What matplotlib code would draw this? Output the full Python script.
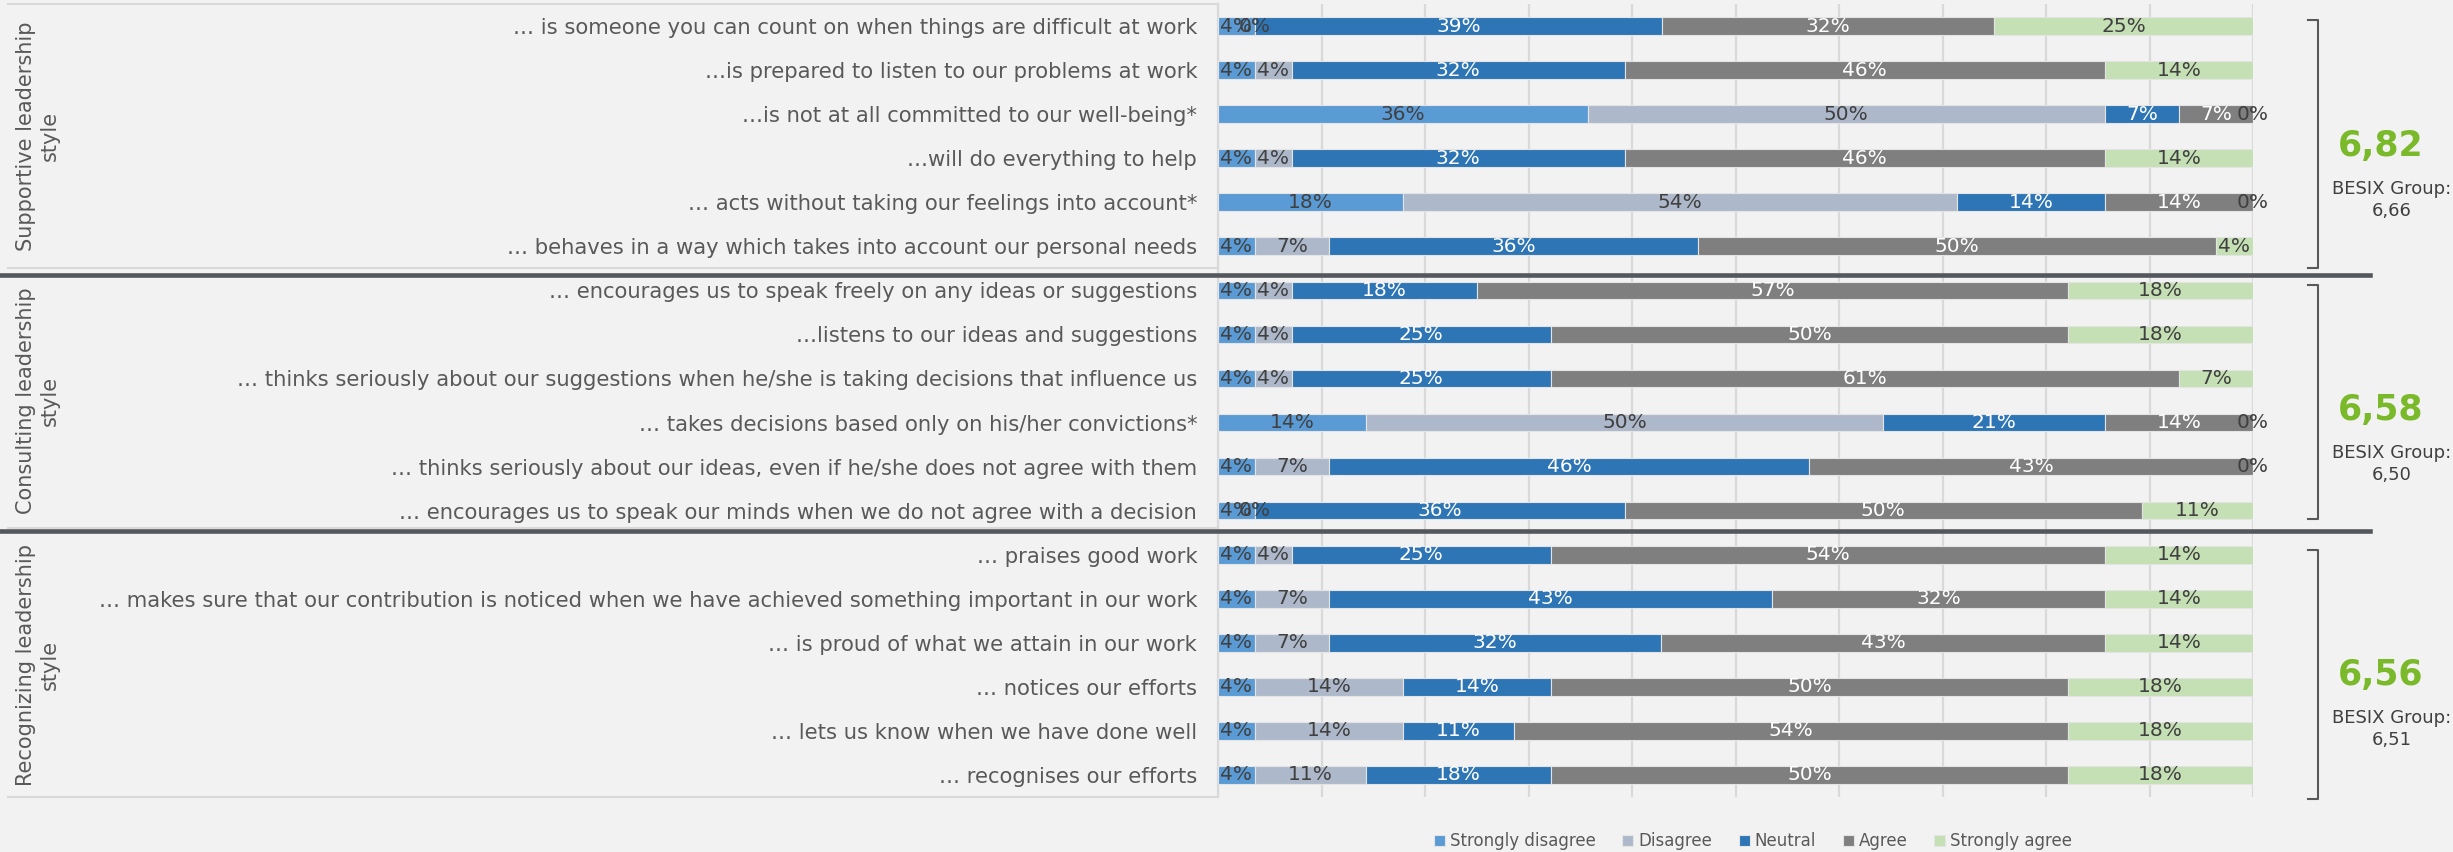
import matplotlib.pyplot as plt
from matplotlib.lines import Line2D
import matplotlib.transforms as mtransforms

statements = [
    "… is someone you can count on when things are difficult at work",
    "…is prepared to listen to our problems at work",
    "…is not at all committed to our well-being*",
    "…will do everything to help",
    "… acts without taking our feelings into account*",
    "… behaves in a way which takes into account our personal needs",
    "… encourages us to speak freely on any ideas or suggestions",
    "…listens to our ideas and suggestions",
    "… thinks seriously about our suggestions when he/she is taking decisions that influence us",
    "… takes decisions based only on his/her convictions*",
    "… thinks seriously about our ideas, even if he/she does not agree with them",
    "… encourages us to speak our minds when we do not agree with a decision",
    "… praises good work",
    "… makes sure that our contribution is noticed when we have achieved something important in our work",
    "… is proud of what we attain in our work",
    "… notices our efforts",
    "… lets us know when we have done well",
    "… recognises our efforts",
]

# share of answers per statement (%)
strongly_disagree = [3.57, 3.57, 35.71, 3.57, 17.86, 3.57, 3.57, 3.57, 3.57,
                     14.29, 3.57, 3.57, 3.57, 3.57, 3.57, 3.57, 3.57, 3.57]
disagree = [0, 3.57, 50.0, 3.57, 53.57, 7.14, 3.57, 3.57, 3.57,
            50.0, 7.14, 0, 3.57, 7.14, 7.14, 14.29, 14.29, 10.71]
neutral = [39.29, 32.14, 7.14, 32.14, 14.29, 35.71, 17.86, 25.0, 25.0,
           21.43, 46.43, 35.71, 25.0, 42.86, 32.14, 14.29, 10.71, 17.86]
agree = [32.14, 46.43, 7.14, 46.43, 14.29, 50.0, 57.14, 50.0, 60.71,
         14.29, 42.86, 50.0, 53.57, 32.14, 42.86, 50.0, 53.57, 50.0]
strongly_agree = [25.0, 14.29, 0, 14.29, 0, 3.57, 17.86, 17.86, 7.14,
                  0, 0, 10.71, 14.29, 14.29, 14.29, 17.86, 17.86, 17.86]

answer_names = ["Strongly disagree", "Disagree", "Neutral", "Agree", "Strongly agree"]
answer_colors = ["#5b9bd5", "#adb9ca", "#2e75b6", "#7f7f7f", "#c5e0b4"]
label_colors = ["#404040", "#404040", "white", "white", "#404040"]

group_names = ["Supportive leadership\nstyle", "Consulting leadership\nstyle",
               "Recognizing leadership\nstyle"]
group_scores = ["6,82", "6,58", "6,56"]
besix_scores = ["6,66", "6,50", "6,51"]
group_size = 6

BG = "#f2f2f2"
W, H = 2453, 852

fig = plt.figure(figsize=(W / 100, H / 100), dpi=100, facecolor=BG)
ax = fig.add_axes([1218 / W, 55 / H, (2253 - 1218) / W, (797 - 4) / H])
ax.set_facecolor(BG)


def fx(px):
    return px / W


def fy(py):
    return 1 - py / H


series = [strongly_disagree, disagree, neutral, agree, strongly_agree]
rows = list(range(len(statements)))
left = [0.0] * len(statements)
handles = []
for vals, name, col, tcol in zip(series, answer_names, answer_colors, label_colors):
    bars = ax.barh(rows, vals, left=left, height=0.4, color=col,
                   edgecolor="#e4e4e4", linewidth=0.8, label=name, zorder=3)
    # value labels in the middle of each segment (also for empty ones)
    for bar, v in zip(bars, vals):
        ax.text(bar.get_x() + bar.get_width() / 2,
                bar.get_y() + bar.get_height() / 2, f"{v:.0f}%",
                ha="center", va="center", color=tcol, fontsize=14.5,
                zorder=4, clip_on=False)
    handles.append(bars)
    left = [l + v for l, v in zip(left, vals)]

ax.set_xlim(0, 100)
ax.set_ylim(len(statements) - 0.5, -0.5)
ax.set_xticks(range(0, 101, 10))
ax.set_xticklabels([])
ax.tick_params(axis="x", length=0)
ax.grid(axis="x", color="#d9d9d9", linewidth=1.6, zorder=0)
ax.set_axisbelow(True)
ax.set_yticks(rows)
ax.set_yticklabels(statements, fontsize=15.2, color="#595959")
ax.tick_params(axis="y", length=0, pad=15)
for side in ["top", "right", "bottom"]:
    ax.spines[side].set_visible(False)
ax.spines["left"].set_color("#d9d9d9")
ax.spines["left"].set_linewidth(1.6)

# light frame lines of the category block
for py in [4, 268, 528, 797]:
    fig.add_artist(Line2D([fx(8), fx(1218)], [fy(py), fy(py)],
                          color="#d9d9d9", linewidth=1.5))

# dark separators between the groups
for py in [274.7, 530.7]:
    fig.add_artist(Line2D([0, fx(2370)], [fy(py), fy(py)],
                          color="#54585c", linewidth=3.3, zorder=10))

# group names, scores and brackets
trans_lbl = mtransforms.blended_transform_factory(fig.transFigure, ax.transData)
bracket_spans = [(20, 268), (285, 519), (550, 799)]
for g, (gname, score, besix) in enumerate(zip(group_names, group_scores, besix_scores)):
    center = g * group_size + (group_size - 1) / 2
    fig.text(fx(38), center, gname, transform=trans_lbl, rotation=90,
             ha="center", va="center", multialignment="center",
             fontsize=15, color="#595959")
    fig.text(fx(2381), center + 0.22, score, transform=trans_lbl,
             ha="center", va="center", fontsize=25, fontweight="bold",
             color="#7ab929")
    fig.text(fx(2392), center + 1.45, "BESIX Group:\n" + besix,
             transform=trans_lbl, ha="center", va="center",
             fontsize=13, color="#404040", linespacing=1.3)
    top, bot = bracket_spans[g]
    fig.add_artist(Line2D([fx(2308), fx(2317.7), fx(2317.7), fx(2308)],
                          [fy(top), fy(top), fy(bot), fy(bot)],
                          color="#595959", linewidth=1.5))

fig.legend(handles=handles, labels=answer_names, loc="center",
           bbox_to_anchor=(fx(1753), fy(841)), ncol=5, frameon=False,
           fontsize=12, labelcolor="#595959", handlelength=0.65,
           handleheight=0.65, handletextpad=0.3, columnspacing=1.6)

fig.savefig("out.png", dpi=100, facecolor=BG)
